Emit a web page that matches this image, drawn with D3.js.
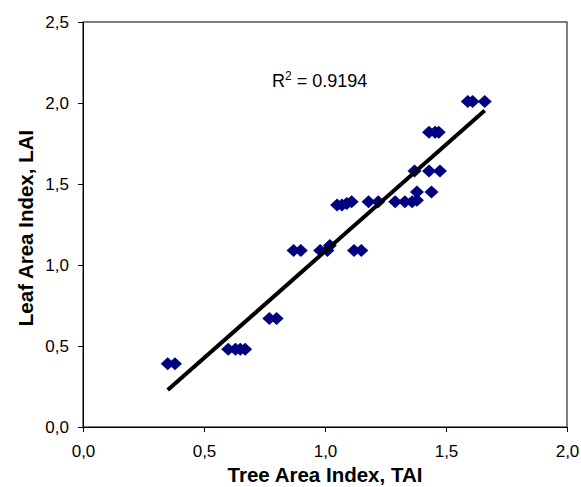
<!DOCTYPE html>
<html>
<head>
<meta charset="utf-8">
<script src="https://cdn.jsdelivr.net/npm/d3@7"></script>
<style>
  body { margin: 0; background: #fff; }
  text { font-family: "Liberation Sans", Arial, sans-serif; }
</style>
</head>
<body>
<svg id="chart"></svg>
<script>
// Tree Area Index (x) and Leaf Area Index (y)
const taiValues = [0.35, 0.38, 0.60, 0.63, 0.65, 0.67, 0.77, 0.80, 0.87, 0.90,
  0.98, 1.01, 1.02, 1.12, 1.15, 1.05, 1.07, 1.09, 1.11, 1.18, 1.22,
  1.29, 1.33, 1.36, 1.38, 1.38, 1.44, 1.37, 1.43, 1.475, 1.43, 1.455, 1.47,
  1.59, 1.61, 1.66];
const laiValues = [0.39, 0.39, 0.48, 0.48, 0.48, 0.48, 0.67, 0.67, 1.09, 1.09,
  1.09, 1.09, 1.12, 1.09, 1.09, 1.37, 1.37, 1.38, 1.39, 1.39, 1.39,
  1.39, 1.39, 1.39, 1.40, 1.45, 1.45, 1.58, 1.58, 1.58, 1.82, 1.82, 1.82,
  2.01, 2.01, 2.01];
const xTicks = [0, 0.5, 1.0, 1.5, 2.0];
const yTicks = [0, 0.5, 1.0, 1.5, 2.0, 2.5];
const r2Label = "0.9194";

const width = 581;
const height = 487;
const margin = { top: 22, right: 14, bottom: 60, left: 83 };

const svg = d3.select("#chart").attr("width", width).attr("height", height);

const x = d3.scaleLinear().domain([0, 2]).range([margin.left, width - margin.right]);
const y = d3.scaleLinear().domain([0, 2.5]).range([height - margin.bottom, margin.top]);

const fmt = (v) => d3.format(".1f")(v).replace(".", ",");

// Frame
svg.append("rect")
  .attr("x", x(0)).attr("y", y(2.5))
  .attr("width", x(2) - x(0)).attr("height", y(0) - y(2.5))
  .attr("fill", "none").attr("stroke", "black").attr("stroke-width", 1);

// Axes
const xAxis = svg.append("g")
  .attr("transform", `translate(0,${y(0)})`)
  .call(d3.axisBottom(x).tickValues(xTicks).tickFormat(fmt).tickSize(5).tickSizeOuter(0));
const yAxis = svg.append("g")
  .attr("transform", `translate(${x(0)},0)`)
  .call(d3.axisLeft(y).tickValues(yTicks).tickFormat(fmt).tickSize(5).tickSizeOuter(0));

[xAxis, yAxis].forEach((g) => {
  g.select(".domain").attr("stroke", "black");
  g.selectAll(".tick line").attr("stroke", "black");
  g.selectAll(".tick text")
    .style("font-family", "Liberation Sans, Arial, sans-serif")
    .style("font-size", "17px").attr("fill", "black");
});
xAxis.selectAll(".tick text").attr("dy", null).attr("y", 30);
yAxis.selectAll(".tick text").attr("x", -14);

// Linear regression from data
const data = taiValues.map((v, i) => ({ tai: v, lai: laiValues[i] }));
const meanX = d3.mean(data, (d) => d.tai);
const meanY = d3.mean(data, (d) => d.lai);
const slope = d3.sum(data, (d) => (d.tai - meanX) * (d.lai - meanY)) /
  d3.sum(data, (d) => (d.tai - meanX) ** 2);
const intercept = meanY - slope * meanX;
const [minX, maxX] = d3.extent(data, (d) => d.tai);

// Points (Excel-style diamonds, slightly wider than tall)
const diamondShape = {
  draw(context) {
    context.moveTo(0, -6.5);
    context.lineTo(7, 0);
    context.lineTo(0, 6.5);
    context.lineTo(-7, 0);
    context.closePath();
  }
};
svg.append("g")
  .selectAll("path")
  .data(data)
  .enter()
  .append("path")
  .attr("d", d3.symbol().type(diamondShape))
  .attr("transform", (d) => `translate(${x(d.tai)},${y(d.lai)})`)
  .attr("fill", "#000080");

// Trend line
svg.append("line")
  .attr("x1", x(minX)).attr("y1", y(slope * minX + intercept))
  .attr("x2", x(maxX)).attr("y2", y(slope * maxX + intercept))
  .attr("stroke", "black").attr("stroke-width", 4);

// R² label
const r2 = svg.append("text")
  .attr("x", 272).attr("y", 87)
  .style("font-size", "18px");
r2.append("tspan").text("R");
r2.append("tspan").text("2").attr("dy", -7).style("font-size", "12px");
r2.append("tspan").text(" = " + r2Label).attr("dy", 7);

// Axis titles
svg.append("text")
  .attr("x", x(1)).attr("y", 482)
  .attr("text-anchor", "middle")
  .style("font-size", "20.5px").style("font-weight", "bold")
  .text("Tree Area Index, TAI");
svg.append("text")
  .attr("transform", `translate(33,228) rotate(-90)`)
  .attr("text-anchor", "middle")
  .style("font-size", "20.5px").style("font-weight", "bold")
  .text("Leaf Area Index, LAI");
</script>
</body>
</html>
